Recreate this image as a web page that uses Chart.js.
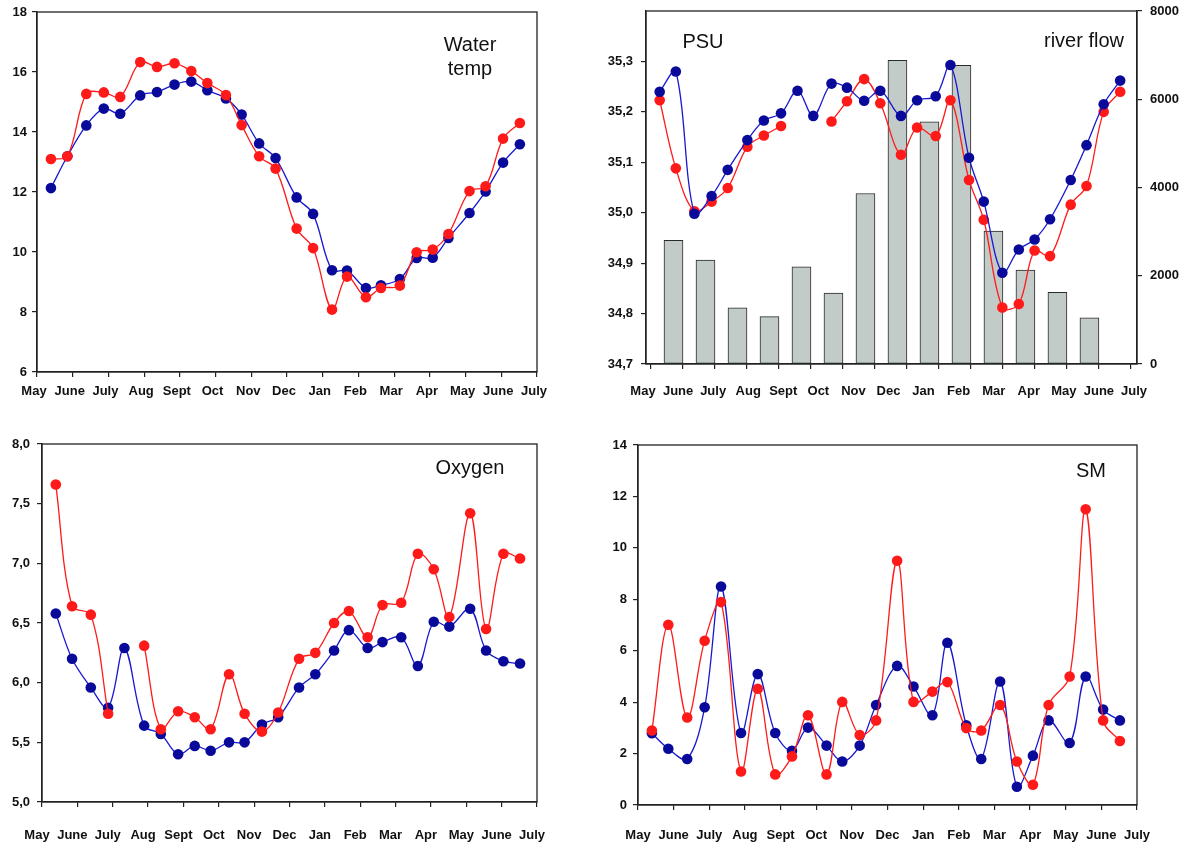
<!DOCTYPE html>
<html>
<head>
<meta charset="utf-8">
<script src="https://cdn.jsdelivr.net/npm/chart.js@4"></script>
<style>
  html, body { margin: 0; padding: 0; background: #fff; }
  body { width: 1187px; height: 847px; position: relative; overflow: hidden; }
  canvas { position: absolute; }
</style>
</head>
<body>
<canvas id="tempChart" width="593" height="420" style="left:0;top:0"></canvas>
<canvas id="psuChart" width="594" height="420" style="left:593px;top:0"></canvas>
<canvas id="oxyChart" width="593" height="427" style="left:0;top:420px"></canvas>
<canvas id="smChart" width="594" height="427" style="left:593px;top:420px"></canvas>
<script>
// month names on the x axis (May .. July of next year)
const monthLabels = ["May", "June", "July", "Aug", "Sept", "Oct", "Nov", "Dec", "Jan", "Feb", "Mar", "Apr", "May", "June", "July"];

// sampling dates, in months after the start of May
const sampleMonth = [0.39, 0.85, 1.38, 1.87, 2.33, 2.89, 3.36, 3.85, 4.32, 4.77, 5.29, 5.73, 6.22, 6.68,
  7.27, 7.73, 8.26, 8.68, 9.21, 9.63, 10.16, 10.63, 11.08, 11.52, 12.11, 12.56, 13.05, 13.52];

const tempBlue = [12.13, 13.19, 14.22, 14.78, 14.61, 15.22, 15.33, 15.58, 15.68, 15.39, 15.12, 14.58, 13.62, 13.13,
  11.82, 11.27, 9.39, 9.38, 8.80, 8.89, 9.10, 9.80, 9.81, 10.47, 11.30, 12.02, 12.98, 13.59];
const tempRed = [13.10, 13.19, 15.27, 15.32, 15.17, 16.33, 16.17, 16.29, 16.03, 15.63, 15.23, 14.23, 13.19, 12.78,
  10.78, 10.13, 8.08, 9.18, 8.49, 8.80, 8.88, 9.99, 10.08, 10.60, 12.03, 12.19, 13.78, 14.30];

const psuBlue = [35.240, 35.280, 34.998, 35.033, 35.085, 35.144, 35.183, 35.197, 35.242, 35.192, 35.256, 35.248, 35.222, 35.242,
  35.192, 35.223, 35.231, 35.293, 35.109, 35.022, 34.881, 34.927, 34.947, 34.987, 35.065, 35.134, 35.215, 35.262];
const psuRed = [35.223, 35.088, 35.003, 35.022, 35.049, 35.131, 35.153, 35.172, null, null, 35.181, 35.221, 35.265, 35.217,
  35.115, 35.169, 35.152, 35.223, 35.065, 34.986, 34.812, 34.819, 34.925, 34.914, 35.016, 35.053, 35.200, 35.240];

// monthly river flow bars (June .. July)
const flowMonths = ["June", "July", "Aug", "Sept", "Oct", "Nov", "Dec", "Jan", "Feb", "Mar", "Apr", "May", "June", "July"];
const flowValues = [2800, 2355, 1275, 1072, 2204, 1608, 3864, 6880, 5487, 6770, 3011, 2128, 1623, 1049];

const oxyBlue = [6.58, 6.20, 5.96, 5.79, 6.29, 5.64, 5.57, 5.40, 5.47, 5.43, 5.50, 5.50, 5.65, 5.71,
  5.96, 6.07, 6.27, 6.44, 6.29, 6.34, 6.38, 6.14, 6.51, 6.47, 6.62, 6.27, 6.18, 6.16];
const oxyRed = [7.66, 6.64, 6.57, 5.74, null, 6.31, 5.61, 5.76, 5.71, 5.61, 6.07, 5.74, 5.59, 5.75,
  6.20, 6.25, 6.50, 6.60, 6.38, 6.65, 6.67, 7.08, 6.95, 6.55, 7.42, 6.45, 7.08, 7.04];

const smBlue = [2.79, 2.19, 1.79, 3.80, 8.50, 2.80, 5.09, 2.80, 2.11, 3.01, 2.31, 1.69, 2.31, 3.89,
  5.41, 4.61, 3.49, 6.31, 3.10, 1.79, 4.80, 0.71, 1.92, 3.29, 2.41, 5.00, 3.71, 3.29];
const smRed = [2.90, 7.01, 3.40, 6.39, 7.89, 1.30, 4.52, 1.19, 1.89, 3.49, 1.19, 4.01, 2.72, 3.29,
  9.50, 4.01, 4.41, 4.78, 2.99, 2.90, 3.89, 1.69, 0.79, 3.89, 5.00, 11.50, 3.29, 2.49];

const FONT = '"Liberation Sans", Arial, sans-serif';
const AXIS = "#222";
const BLUE_LINE = "#1818d0";
const BLUE_DOT = "#0a0a9a";
const RED = "#ff1a1a";

Chart.defaults.font.family = FONT;
Chart.defaults.color = "#111";
Chart.defaults.animation = false;
Chart.defaults.plugins.legend.display = false;
Chart.defaults.plugins.tooltip.enabled = false;

const tickFont = { size: 13, weight: "bold" };

function points(values) {
  return sampleMonth.map((m, i) => ({ x: m, y: values[i] }));
}

function lineSet(values, line, dot, order, xId) {
  return {
    type: "line",
    data: points(values),
    borderColor: line,
    borderWidth: 1.3,
    pointRadius: 5.3,
    pointBackgroundColor: dot,
    pointBorderColor: dot,
    pointBorderWidth: 0,
    tension: 0.35,
    spanGaps: false,
    order: order,
    xAxisID: xId || "x",
    yAxisID: "y",
  };
}

// fixed axis width, and no extra room asked for the end labels
function fixWidth(width) {
  return function (s) {
    s.width = width;
    s.paddingTop = 0;
    s.paddingBottom = 0;
  };
}

function yAxis(min, max, step, width, pad, fmt) {
  return {
    type: "linear",
    position: "left",
    min: min,
    max: max,
    ticks: { stepSize: step, padding: pad, font: tickFont, callback: fmt },
    grid: { drawOnChartArea: false, tickLength: 5, color: AXIS, lineWidth: 1.2 },
    border: { color: AXIS, width: 1.3 },
    afterFit: fixWidth(width),
  };
}

function monthAxis(height, pad, shift) {
  return {
    type: "linear",
    position: "bottom",
    min: 0,
    max: 14,
    offset: false,
    ticks: {
      stepSize: 1,
      padding: pad,
      labelOffset: shift,
      autoSkip: false,
      maxRotation: 0,
      font: tickFont,
      callback: function (v) { return monthLabels[Math.round(v)]; },
    },
    grid: { drawOnChartArea: false, offset: false, tickLength: 5, color: AXIS, lineWidth: 1.2 },
    border: { color: AXIS, width: 1.3 },
    afterFit: function (s) { s.height = height; },
  };
}

const framePlugin = {
  id: "frame",
  beforeDatasetsDraw: function (chart) {
    const a = chart.chartArea;
    const ctx = chart.ctx;
    ctx.save();
    ctx.strokeStyle = AXIS;
    ctx.lineWidth = 1.3;
    ctx.strokeRect(a.left, a.top, a.right - a.left, a.bottom - a.top);
    ctx.restore();
  },
};

const notePlugin = {
  id: "notes",
  afterDraw: function (chart, args, opts) {
    const ctx = chart.ctx;
    ctx.save();
    ctx.font = "20px " + FONT;
    ctx.fillStyle = "#111";
    ctx.textAlign = "center";
    ctx.textBaseline = "middle";
    (opts.items || []).forEach(function (t) { ctx.fillText(t.text, t.x, t.y); });
    ctx.restore();
  },
};

function simplePanel(id, blue, red, yMin, yMax, step, fmt, area, notes) {
  const canvas = document.getElementById(id);
  new Chart(canvas.getContext("2d"), {
    type: "line",
    data: {
      datasets: [
        lineSet(red, RED, RED, 1),
        lineSet(blue, BLUE_LINE, BLUE_DOT, 2),
      ],
    },
    options: {
      responsive: false,
      layout: { padding: { left: 0, top: area.top, right: canvas.width - area.right, bottom: 0 } },
      scales: {
        x: monthAxis(canvas.height - area.bottom, area.labelPad, area.shift),
        y: yAxis(yMin, yMax, step, area.left, area.yPad, fmt),
      },
      plugins: { notes: { items: notes } },
    },
    plugins: [framePlugin, notePlugin],
  });
}

function comma(v) { return v.toFixed(1).replace(".", ","); }

simplePanel("tempChart", tempBlue, tempRed, 6, 18, 2, function (v) { return String(v); },
  { left: 37, top: 12, right: 537, bottom: 372, labelPad: 7, yPad: 5, shift: -3 },
  [{ text: "Water", x: 470, y: 45 }, { text: "temp", x: 470, y: 69 }]);

simplePanel("oxyChart", oxyBlue, oxyRed, 5, 8, 0.5, comma,
  { left: 42, top: 24, right: 537, bottom: 382, labelPad: 21, yPad: 7, shift: -5 },
  [{ text: "Oxygen", x: 470, y: 48 }]);

simplePanel("smChart", smBlue, smRed, 0, 14, 2, function (v) { return String(v); },
  { left: 45, top: 25, right: 544, bottom: 385, labelPad: 18, yPad: 6, shift: 0 },
  [{ text: "SM", x: 498, y: 51 }]);

// salinity + river flow panel
(function () {
  const canvas = document.getElementById("psuChart");
  const psuAxis = yAxis(34.7, 35.4, 0.1, 53, 8, function (v) { return v > 35.35 ? "" : comma(v); });
  psuAxis.grid.tickColor = function (c) { return c.tick && c.tick.value > 35.35 ? "rgba(0,0,0,0)" : AXIS; };

  const dateAxis = monthAxis(420 - 364, 20, -3);
  dateAxis.weight = 1;
  dateAxis.grid = { display: false, drawTicks: false, offset: false };
  dateAxis.border = { display: false };

  new Chart(canvas.getContext("2d"), {
    type: "line",
    data: {
      datasets: [
        {
          type: "bar",
          label: "river flow",
          data: flowValues.map(function (v, i) { return { x: i + 1, y: v }; }),
          backgroundColor: "#c3cbc8",
          borderColor: "#2a2a2a",
          borderWidth: 1,
          borderSkipped: false,
          barThickness: 19,
          order: 3,
          xAxisID: "xb",
          yAxisID: "y2",
        },
        lineSet(psuRed, RED, RED, 2, "xm"),
        lineSet(psuBlue, BLUE_LINE, BLUE_DOT, 1, "xm"),
      ],
    },
    options: {
      responsive: false,
      layout: { padding: { left: 0, top: 11, right: 0, bottom: 0 } },
      scales: {
        xb: {
          type: "linear",
          axis: "x",
          position: "bottom",
          min: -0.156,
          max: 15.19,
          offset: false,
          weight: 0,
          ticks: { stepSize: 1, includeBounds: false, display: false },
          grid: { drawOnChartArea: false, offset: false, tickLength: 5, color: AXIS, lineWidth: 1.2 },
          border: { color: AXIS, width: 1.3 },
          afterFit: function (s) { s.height = 0; },
        },
        xm: dateAxis,
        y: psuAxis,
        y2: {
          type: "linear",
          axis: "y",
          position: "right",
          min: 0,
          max: 8000,
          ticks: { stepSize: 2000, padding: 8, font: tickFont, callback: function (v) { return String(v); } },
          grid: { drawOnChartArea: false, tickLength: 5, color: AXIS, lineWidth: 1.2 },
          border: { color: AXIS, width: 1.3 },
          afterFit: fixWidth(canvas.width - 544),
        },
      },
      plugins: { notes: { items: [{ text: "PSU", x: 110, y: 42 }, { text: "river flow", x: 491, y: 41 }] } },
    },
    plugins: [framePlugin, notePlugin],
  });
})();
</script>
</body>
</html>
